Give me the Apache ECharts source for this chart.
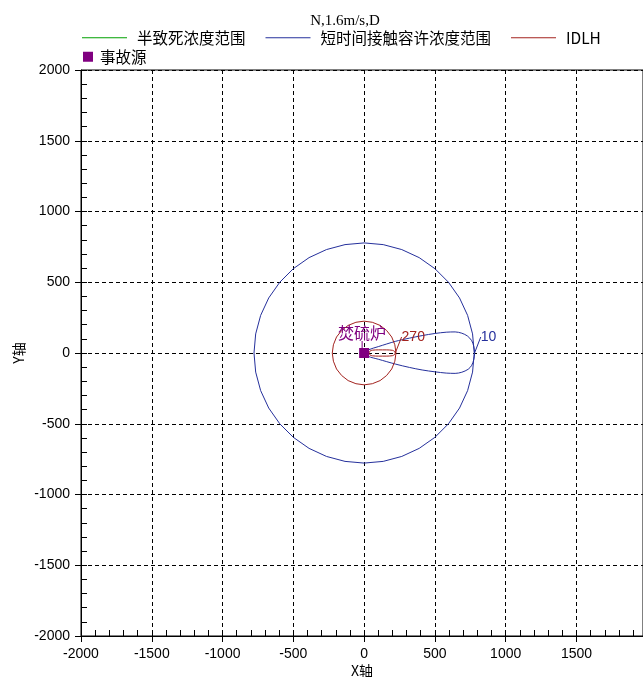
<!DOCTYPE html>
<html>
<head>
<meta charset="utf-8">
<script src="https://cdn.jsdelivr.net/npm/echarts@6/dist/echarts.min.js"></script>
<style>
  html, body { margin: 0; padding: 0; background: #fff; }
  #chart { width: 643px; height: 677px; }
</style>
</head>
<body>
<div id="chart"></div>
<script>
// Wind case shown in the heading
const chartTitle = 'N,1.6m/s,D';

// Legend entries
const lethalName = '半致死浓度范围';
const stelName = '短时间接触容许浓度范围';
const idlhName = 'IDLH';
const sourceName = '事故源';

// Release point
const sourceLabel = '焚硫炉';
const sourcePoint = [[0, 0]];

// 半致死浓度: no zone reached in this case
const lethalRange = [];

// 短时间接触容许浓度 (10 mg/m³): surrounding ring and downwind plume, metres
const stelRing = [
  [778, 0], [766, 135], [731, 266], [674, 389], [596, 500], [500, 596], [389, 674], [266, 731], [135, 766], [0, 778],
  [-135, 766], [-266, 731], [-389, 674], [-500, 596], [-596, 500], [-674, 389], [-731, 266], [-766, 135], [-778, 0],
  [-766, -135], [-731, -266], [-674, -389], [-596, -500], [-500, -596], [-389, -674], [-266, -731], [-135, -766], [0, -778],
  [135, -766], [266, -731], [389, -674], [500, -596], [596, -500], [674, -389], [731, -266], [766, -135], [778, 0]
];
const stelPlume = [
  [0, 0], [30, 22], [100, 45], [220, 82], [320, 105], [410, 123], [500, 138], [580, 147], [643, 149], [690, 140],
  [730, 120], [760, 87], [775, 45], [780, 0], [775, -45], [760, -87], [735, -115], [690, -136], [643, -144],
  [580, -142], [500, -133], [410, -120], [320, -102], [220, -78], [100, -44], [30, -24], [0, 0]
];
const stelValue = '10';
const stelTip = [[780, 0]];

// IDLH (270 mg/m³): ring and narrow downwind plume, metres
const idlhRing = [
  [225, 0], [217, 58], [195, 113], [159, 159], [113, 195], [58, 217], [0, 225],
  [-58, 217], [-113, 195], [-159, 159], [-195, 113], [-217, 58], [-225, 0],
  [-217, -58], [-195, -113], [-159, -159], [-113, -195], [-58, -217], [0, -225],
  [58, -217], [113, -195], [159, -159], [195, -113], [217, -58], [225, 0]
];
const idlhPlume = [
  [35, 0], [42, 14], [60, 20], [100, 22], [160, 22], [200, 19], [214, 12], [220, 0],
  [214, -12], [200, -19], [160, -22], [100, -22], [60, -20], [42, -14], [35, 0]
];
const idlhValue = '270';
const idlhTip = [[220, 0]];

// Axis extents (metres)
const xMin = -2000, xMax = 1970;
const yMin = -2000, yMax = 2000;
const majorStep = 500, minorStep = 100;

const GREEN = '#00a000';
const BLUE = '#25309c';
const RED = '#a3231f';
const PURPLE = '#800080';
const LATIN = '"Liberation Sans", Arial, sans-serif';
const CJK = '"Noto Sans CJK SC", "Noto Sans", sans-serif';

const tickLabel = { color: '#000', fontFamily: LATIN, fontSize: 14, formatter: (v) => String(v) };
const axisNameStyle = { color: '#000', fontFamily: CJK, fontSize: 14 };

function majorAxis(min, max, extra) {
  return Object.assign({
    type: 'value', min: min, max: max, interval: majorStep,
    axisLine: { show: true, onZero: false, lineStyle: { color: '#000', width: 1 } },
    axisTick: { show: true, inside: false, length: 6, lineStyle: { color: '#000' } },
    splitLine: { show: true, lineStyle: { color: '#000', width: 1, type: [4, 3] } },
    nameLocation: 'middle', nameMoveOverlap: false, nameTextStyle: axisNameStyle
  }, extra);
}
function minorAxis(min, max, pos) {
  return {
    type: 'value', min: min, max: max, interval: minorStep, position: pos,
    axisLine: { show: false, onZero: false },
    axisTick: { show: true, inside: true, length: 6, lineStyle: { color: '#000' } },
    axisLabel: { show: false },
    splitLine: { show: false }
  };
}

// Value tag next to a contour tip, pulled out with a short leader line
function tagLabel(text, color, family, size) {
  return {
    show: true, position: 'inside', formatter: text, color: color,
    fontFamily: family, fontSize: size, textBorderWidth: 0, textBorderColor: 'transparent'
  };
}

const legendText = { fontFamily: CJK, fontSize: 15.5, color: '#000' };

const chart = echarts.init(document.getElementById('chart'));
chart.setOption({
  animation: false,
  backgroundColor: '#fff',
  title: {
    text: chartTitle, left: 340, top: 9, textAlign: 'center',
    textStyle: { fontFamily: '"Liberation Serif", "Times New Roman", serif', fontSize: 15, fontWeight: 'normal', color: '#000' }
  },
  legend: [
    {
      data: [lethalName, stelName, idlhName],
      left: 82, top: 30, padding: 0, icon: 'rect', itemWidth: 45, itemHeight: 1, itemGap: 20,
      textStyle: Object.assign({ padding: [0, 0, 0, 5] }, legendText)
    },
    {
      data: [sourceName],
      left: 83, top: 49, padding: 0, icon: 'rect', itemWidth: 10, itemHeight: 10,
      itemStyle: { opacity: 1 },
      textStyle: Object.assign({ padding: [0, 0, 0, 2] }, legendText)
    }
  ],
  grid: {
    left: 81, top: 70, right: 0, bottom: 41, outerBoundsMode: 'none',
    show: true, borderColor: '#000', borderWidth: 1
  },
  xAxis: [
    majorAxis(xMin, xMax, {
      position: 'bottom', name: 'X轴', nameGap: 28,
      axisLabel: Object.assign({ margin: 11, showMaxLabel: false }, tickLabel)
    }),
    minorAxis(xMin, xMax, 'bottom')
  ],
  yAxis: [
    majorAxis(yMin, yMax, {
      position: 'left', name: 'Y轴', nameGap: 55, nameRotate: 90,
      axisLabel: Object.assign({ margin: 11 }, tickLabel)
    }),
    minorAxis(yMin, yMax, 'left')
  ],
  series: [
    { name: lethalName, type: 'line', data: lethalRange, symbol: 'none', color: GREEN, lineStyle: { width: 1, color: GREEN } },
    { name: stelName, type: 'line', data: stelRing, symbol: 'none', color: BLUE, lineStyle: { width: 1, color: BLUE } },
    { name: stelName, type: 'line', data: stelPlume, symbol: 'none', smooth: 0.3, color: BLUE, lineStyle: { width: 1, color: BLUE } },
    { name: idlhName, type: 'line', data: idlhRing, symbol: 'none', color: RED, lineStyle: { width: 1, color: RED } },
    { name: idlhName, type: 'line', data: idlhPlume, symbol: 'none', smooth: 0.3, color: RED, lineStyle: { width: 1, color: RED } },
    {
      name: 'stel-value', type: 'scatter', data: stelTip, symbolSize: 0, silent: true, z: 4,
      itemStyle: { opacity: 1 },
      label: tagLabel(stelValue, BLUE, LATIN, 14),
      labelLayout: { dx: 14, dy: -16 },
      labelLine: { show: true, lineStyle: { color: BLUE, width: 1 } }
    },
    {
      name: 'idlh-value', type: 'scatter', data: idlhTip, symbolSize: 0, silent: true, z: 4,
      itemStyle: { opacity: 1 },
      label: tagLabel(idlhValue, RED, LATIN, 14),
      labelLayout: { dx: 18, dy: -16 },
      labelLine: { show: true, lineStyle: { color: RED, width: 1 } }
    },
    {
      name: sourceName, type: 'scatter', data: sourcePoint, symbol: 'rect', symbolSize: 10, z: 5,
      itemStyle: { color: PURPLE, opacity: 1 },
      label: tagLabel(sourceLabel, PURPLE, CJK, 16),
      labelLayout: { dx: -2, dy: -20 },
      labelLine: { show: true, lineStyle: { color: PURPLE, width: 1 } }
    }
  ]
});
</script>
</body>
</html>
